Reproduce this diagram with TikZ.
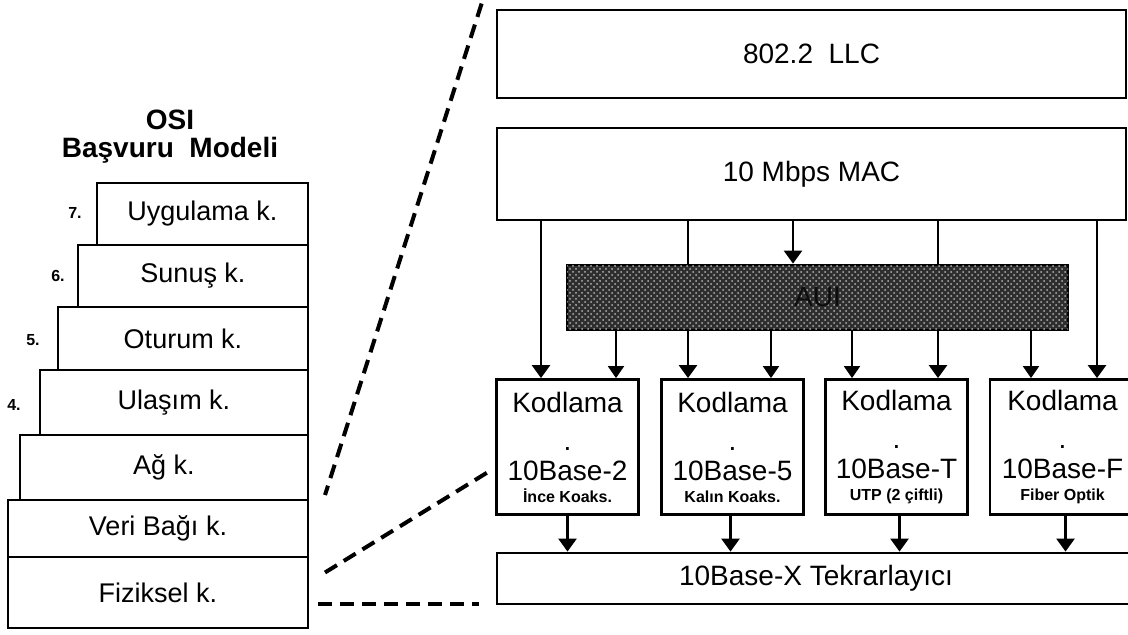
\documentclass[tikz,border=0pt]{standalone}
\usepackage{fontspec}
\setmainfont{Liberation Sans}
\usetikzlibrary{arrows.meta,positioning,calc,patterns}

\tikzset{
  layer/.style={draw, line width=1.4pt, anchor=north east, inner sep=0pt, outer sep=0pt, font=\fontsize{13.5}{16}\selectfont},
  num/.style={font=\bfseries\fontsize{8}{8}\selectfont},
  bigbox/.style={draw, line width=1.4pt, minimum width=314.5pt, inner sep=0pt, font=\fontsize{14}{17}\selectfont},
  codebox/.style={draw, line width=1.4pt, minimum width=71pt, minimum height=67.5pt, inner sep=0pt, align=center, font=\fontsize{14}{17}\selectfont},
  medium/.style={draw, line width=1.4pt, fill=black!82, minimum width=250.5pt, minimum height=32.5pt,
    postaction={pattern=crosshatch dots, pattern color=black!30}},
  arr/.style={-{Triangle[width=9pt,length=6.5pt]}, line width=1.3pt},
  thinarr/.style={-{Triangle[width=8pt,length=6pt]}, line width=1pt},
  zoomline/.style={line width=2pt, dash pattern=on 7pt off 4pt},
}
\newcommand{\typenote}[1]{{\bfseries\fontsize{8}{9}\selectfont #1}}

\begin{document}
\begin{tikzpicture}[x=0.5pt, y=-0.5pt]
    \useasboundingbox (0,0) rectangle (1128,635);
    \clip (0,0) rectangle (1128,635);

    % OSI stack
    \node [font=\bfseries\fontsize{14}{14}\selectfont, align=center] (title) at (170,137) {OSI\\Başvuru~~Modeli};
    \node [layer, minimum width=105.5pt, minimum height=31pt] (app) at (308,183) {Uygulama k.};
    \node [layer, minimum width=115pt, minimum height=31pt] (pres) at (app.south east) {Sunuş k.};
    \node [layer, minimum width=125pt, minimum height=31.5pt] (sess) at (pres.south east) {Oturum k.};
    \node [layer, minimum width=134pt, minimum height=32.5pt] (trans) at (sess.south east) {Ulaşım k.};
    \node [layer, minimum width=144pt, minimum height=32.5pt] (net) at (trans.south east) {Ağ k.};
    \node [layer, minimum width=150pt, minimum height=28.5pt] (link) at (net.south east) {Veri Bağı k.};
    \node [layer, minimum width=150pt, minimum height=35.5pt] (phys) at (link.south east) {Fiziksel k.};
    \node [num] (n7) at (75,213) {7.};
    \node [num] (n6) at (58,276) {6.};
    \node [num] (n5) at (33,340) {5.};
    \node [num] (n4) at (14,405) {4.};

    % 802.3 side
    \node [bigbox, minimum height=44pt] (llc) at (811.5,54) {802.2~~LLC};
    \node [bigbox, minimum height=46pt] (mac) at (811.5,174) {10 Mbps MAC};
    \node [codebox] (c2) at (567.5,447) {Kodlama\\[2pt].\\[-2pt]10Base-2\\[-6pt]\typenote{İnce Koaks.}};
    \node [codebox] (c5) at (732.5,447) {Kodlama\\[2pt].\\[-2pt]10Base-5\\[-6pt]\typenote{Kalın Koaks.}};
    \node [codebox] (ct) at (896.5,447) {Kodlama\\[2pt].\\[-2pt]10Base-T\\[-6pt]\typenote{UTP (2 çiftli)}};
    \node [codebox, minimum width=72.5pt] (cf) at (1062.5,447) {Kodlama\\[2pt].\\[-2pt]10Base-F\\[-6pt]\typenote{Fiber Optik}};
    \node [bigbox, minimum width=319pt, minimum height=25.5pt] (rep) at (816,578.5) {10Base-X Tekrarlayıcı};

    % MAC to coders
    \draw [arr] (541,0 |- mac.south) -- (541,0 |- c2.north);
    \draw [arr] (688,0 |- mac.south) -- (688,0 |- c5.north);
    \draw [arr] (938,0 |- mac.south) -- (938,0 |- ct.north);
    \draw [arr] (1097,0 |- mac.south) -- (1097,0 |- cf.north);

    \node [medium] (aui) at (817.5,297.5) {\textcolor{black!95}{\fontsize{14}{17}\selectfont AUI}};
    \draw [arr] (793,0 |- mac.south) -- (793,0 |- aui.north);
    \draw [thinarr] (616,0 |- aui.south) -- (616,0 |- c2.north);
    \draw [thinarr] (771,0 |- aui.south) -- (771,0 |- c5.north);
    \draw [thinarr] (852,0 |- aui.south) -- (852,0 |- ct.north);
    \draw [thinarr] (1031,0 |- aui.south) -- (1031,0 |- cf.north);

    % coders to repeater
    \draw [arr] (c2.south) -- (c2.south |- rep.north);
    \draw [arr] ($(c5.south)+(-2,0)$) -- ($(c5.south |- rep.north)+(-2,0)$);
    \draw [arr] ($(ct.south)+(3,0)$) -- ($(ct.south |- rep.north)+(3,0)$);
    \draw [arr] ($(cf.south)+(3,0)$) -- ($(cf.south |- rep.north)+(3,0)$);

    % zoom lines
    \coordinate (zb) at ($(phys.east)+(10,11)$);
    \draw [zoomline] ($(llc.north west)+(-14,-5)$) -- ($(net.south east)+(17,-5)$);
    \draw [zoomline] ($(link.east)+(17,44)$) -- ($(c2.west)+(-7,25)$);
    \draw [zoomline] (zb) -- ($(zb -| rep.west)+(-17,0)$);
\end{tikzpicture}
\end{document}
